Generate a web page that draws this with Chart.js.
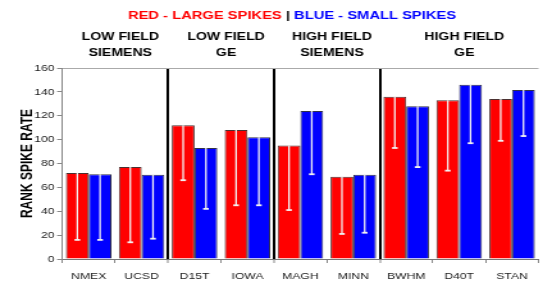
<!DOCTYPE html>
<html>
<head>
<meta charset="utf-8">
<script src="https://cdn.jsdelivr.net/npm/chart.js@4/dist/chart.umd.min.js"></script>
<style>
  html, body { margin: 0; padding: 0; background: #fff; overflow: hidden; }
  /* the reference picture is stretched sideways, so the chart is drawn narrow and widened */
  #wrap { width: 424px; height: 283px; transform: scaleX(1.2807); transform-origin: 0 0; }
</style>
</head>
<body>
<div id="wrap"><canvas id="chart"></canvas></div>
<script>
const sites = ['NMEX', 'UCSD', 'D15T', 'IOWA', 'MAGH', 'MINN', 'BWHM', 'D40T', 'STAN'];
const largeSpikes = [72, 77, 112, 108, 95, 69, 136, 133, 134];
const smallSpikes = [71, 70.5, 93, 102, 124, 70.5, 128, 146, 141.5];
const largeLow = [16, 14, 66, 45, 41, 21, 93, 74, 99];
const smallLow = [16, 17, 42, 45, 71, 22, 77, 97, 103];
const yTicks = [0, 20, 40, 60, 80, 100, 120, 140, 160];

const groupNames = [['LOW FIELD', 'SIEMENS'], ['LOW FIELD', 'GE'], ['HIGH FIELD', 'SIEMENS'], ['HIGH FIELD', 'GE']];
const groupFirst = [0, 2, 4, 6];
const groupLast = [1, 3, 5, 8];

const titleParts = [['RED - LARGE SPIKES', '#ff0000'], [' | ', '#000000'], ['BLUE - SMALL SPIKES', '#0000ff']];

const lowValues = [largeLow, smallLow];
// grid line indexes (offset grid) that get the heavy black separator
const separators = groupFirst.slice(1);

const headerPlugin = {
  id: 'header',
  afterDraw(chart) {
    const ctx = chart.ctx;
    const x = chart.scales.x;
    ctx.save();
    // title, in several colours
    ctx.font = 'bold 11.5px "Liberation Sans", Arial, sans-serif';
    ctx.textBaseline = 'middle';
    ctx.textAlign = 'left';
    let total = 0;
    titleParts.forEach(p => { total += ctx.measureText(p[0]).width; });
    let cx = 228 - total / 2;
    titleParts.forEach(p => {
      ctx.fillStyle = p[1];
      ctx.fillText(p[0], cx, 15.5);
      cx += ctx.measureText(p[0]).width;
    });
    // group names above the plot
    ctx.font = 'bold 11px "Liberation Sans", Arial, sans-serif';
    ctx.textAlign = 'center';
    ctx.fillStyle = '#000';
    for (let g = 0; g < groupNames.length; g++) {
      const mid = (x.getPixelForValue(groupFirst[g]) + x.getPixelForValue(groupLast[g])) / 2 + 4;
      ctx.fillText(groupNames[g][0], mid, 37);
      ctx.fillText(groupNames[g][1], mid, 53);
    }
    ctx.restore();
  }
};

const errorBarPlugin = {
  id: 'errorBars',
  afterDatasetsDraw(chart) {
    const ctx = chart.ctx;
    const y = chart.scales.y;
    ctx.save();
    ctx.strokeStyle = '#f2f2f2';
    for (let d = 0; d < chart.data.datasets.length; d++) {
      const meta = chart.getDatasetMeta(d);
      meta.data.forEach((bar, i) => {
        const yLow = y.getPixelForValue(lowValues[d][i]);
        ctx.lineWidth = 1.3;
        ctx.beginPath();
        ctx.moveTo(bar.x, bar.y);
        ctx.lineTo(bar.x, yLow);
        ctx.stroke();
        ctx.lineWidth = 1.8;
        ctx.beginPath();
        ctx.moveTo(bar.x - 2.2, yLow);
        ctx.lineTo(bar.x + 2.2, yLow);
        ctx.stroke();
      });
    }
    ctx.restore();
  }
};

Chart.defaults.font.family = '"Liberation Sans", Arial, sans-serif';

new Chart(document.getElementById('chart'), {
  type: 'bar',
  data: {
    labels: sites,
    datasets: [
      {
        label: 'Large spikes',
        data: largeSpikes,
        backgroundColor: '#ff0000',
        borderColor: '#4a3030',
        borderWidth: 1,
        borderSkipped: 'bottom',
      },
      {
        label: 'Small spikes',
        data: smallSpikes,
        backgroundColor: '#0000ff',
        borderColor: '#303048',
        borderWidth: 1,
        borderSkipped: 'bottom',
      }
    ]
  },
  options: {
    responsive: true,
    maintainAspectRatio: false,
    animation: false,
    datasets: {
      bar: { categoryPercentage: 0.86, barPercentage: 1 }
    },
    layout: {
      padding: { top: 68, right: 3.5, left: 0, bottom: 0 }
    },
    plugins: {
      legend: { display: false },
      title: { display: false },
      tooltip: { enabled: false }
    },
    scales: {
      x: {
        grid: {
          offset: true,
          color: c => separators.includes(c.index) ? '#000' : 'rgba(0,0,0,0)',
          lineWidth: c => separators.includes(c.index) ? 2 : 1,
          tickColor: '#888',
          tickWidth: 1,
          tickLength: 4,
        },
        border: { display: true, color: '#777', width: 1 },
        ticks: {
          color: '#222',
          font: { size: 9.5 },
          padding: 7.5,
          maxRotation: 0,
        },
        afterFit(scale) { scale.height = 24; }
      },
      y: {
        min: 0,
        max: 160,
        afterBuildTicks(scale) { scale.ticks = yTicks.map(v => ({ value: v })); },
        grid: {
          color: c => c.tick && c.tick.value === 160 ? '#aaa' : 'rgba(0,0,0,0)',
          tickColor: '#888',
          tickWidth: 1,
          tickLength: 4,
        },
        border: { display: true, color: '#888', width: 1 },
        ticks: {
          color: '#222',
          font: { size: 9.5 },
          padding: 2,
        },
        title: {
          display: true,
          text: 'RANK SPIKE RATE',
          color: '#000',
          font: { size: 12, weight: 'bold' },
          padding: { top: 14.5, bottom: 0 }
        },
        afterFit(scale) { scale.width = 48.6; }
      }
    }
  },
  plugins: [headerPlugin, errorBarPlugin]
});
</script>
</body>
</html>
